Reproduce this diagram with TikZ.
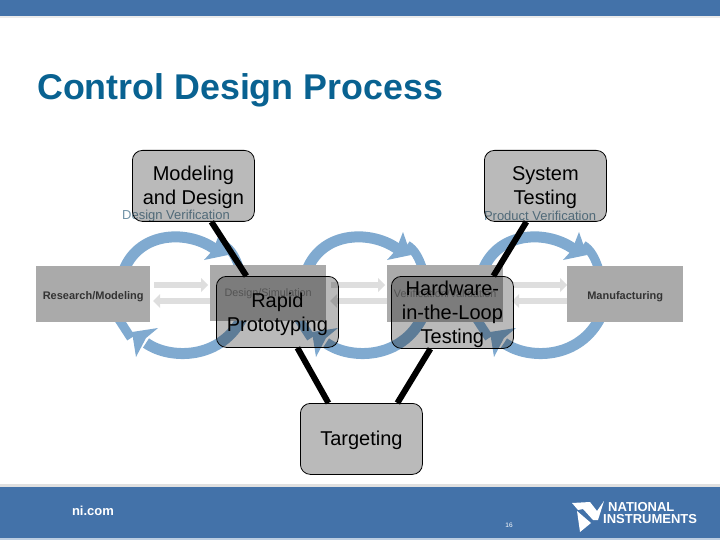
\documentclass[tikz,border=0pt]{standalone}
\usepackage{fontspec}
\setmainfont{Liberation Sans}
\definecolor{nibar}{RGB}{67,114,169}
\definecolor{titleblue}{RGB}{9,98,145}
\definecolor{loopblue}{RGB}{128,170,208}
\definecolor{stagegray}{RGB}{170,170,170}
\definecolor{flowgray}{RGB}{222,222,222}
\definecolor{verifblue}{RGB}{110,145,165}
\newcommand\lowertext[2]{\raisebox{-#1pt}[\height][\depth]{\begin{tabular}{@{}c@{}}#2\end{tabular}}}
\tikzset{
  x=1pt,y=-1pt,
  processbox/.style={draw=black,line width=.8pt,rounded corners=10pt,fill=black,fill opacity=.27,text opacity=1,
    minimum width=122pt,minimum height=71pt,align=center,font=\fontsize{20}{24}\selectfont,anchor=north west,inner sep=0pt},
  stagebox/.style={fill=stagegray,inner sep=0pt,anchor=north west,font=\bfseries\fontsize{11}{13}\selectfont,text=black!80},
  dimstage/.style={stagebox,font=\fontsize{10.8}{13}\selectfont,text=black!55},
  linkline/.style={line width=6pt,black},
  looparc/.style={line width=11pt,loopblue},
  loophead/.style={fill=loopblue},
  flowarrow/.style={line width=6pt,flowgray},
  flowhead/.style={fill=flowgray},
  verif/.style={text=verifblue,font=\fontsize{13}{15}\selectfont,inner sep=0pt}
}
\begin{document}
\begin{tikzpicture}
\useasboundingbox (0,0) rectangle (720,540);
\fill[black!8] (0,16) rectangle (720,18);
\fill[nibar] (0,0) rectangle (720,16);
\fill[black!12] (0,484) rectangle (720,487);
\fill[nibar] (0,487) rectangle (720,538);
\fill[nibar!35] (0,538) rectangle (720,540);
\node[text=titleblue,font=\bfseries\fontsize{35.8}{40}\selectfont,anchor=west,inner sep=0pt] (title) at (37,90) {Control Design Process};
% loops
\foreach \dx/\ex in {0/0,183/180,359/358}{
  \begin{scope}[xshift=\dx pt]
  \draw[looparc] (124,270) .. controls (140,230) and (190,230) .. (216,250);
  \fill[loophead] (220,232) -- (228,255) -- (204,260) -- (213,250) -- cycle;
  \draw[looparc,line width=9pt] (224,245) .. controls (232,250) and (236,258) .. (240,270);
  \end{scope}
  \begin{scope}[xshift=\ex pt]
  \draw[looparc] (243,316) .. controls (222,360) and (170,360) .. (146,343);
  \fill[loophead] (132,332) -- (158,328) -- (146,338) -- (136,357) -- cycle;
  \draw[looparc,line width=9pt] (118,318) -- (131,338);
  \end{scope}
}
% flow arrows
\foreach \dx in {0,177,359}{
  \begin{scope}[xshift=\dx pt]
  \draw[flowarrow] (154,285) -- (202,285);
  \fill[flowhead] (201,278) -- (208,285) -- (201,292) -- cycle;
  \draw[flowarrow] (210,301) -- (160,301);
  \fill[flowhead] (160,294) -- (153,301) -- (160,308) -- cycle;
  \end{scope}
}
\node[stagebox,minimum width=114pt,minimum height=56pt] (res) at (36,266) {\lowertext{2.5}{Research/Modeling}};
\node[dimstage,minimum width=116pt,minimum height=56pt] (des) at (210,265) {\lowertext{1}{Design/Simulation}};
\node[dimstage,minimum width=116pt,minimum height=57pt] (ver) at (387,265) {\lowertext{1}{Verification/Validation}};
\node[stagebox,minimum width=116pt,minimum height=56pt] (man) at (567,266) {\lowertext{2.5}{Manufacturing}};
\node[verif] (dv) at (176,216) {Design Verification};
\node[verif] (pv) at (540,216) {Product Verification};
% process boxes
\node[processbox] (model) at (132,150) {\lowertext{1.5}{Modeling\\and Design}};
\node[processbox] (sys) at (484,150) {\lowertext{1.5}{System\\Testing}};
\node[processbox] (rapid) at (216,276) {\lowertext{2.5}{Rapid\\Prototyping}};
\node[processbox] (hil) at (391,276) {\lowertext{2}{Hardware-\\in-the-Loop\\Testing}};
\node[processbox] (tgt) at (300,403) {\lowertext{1.5}{Targeting}};
\draw[linkline] ([xshift=18pt]model.south) -- ([xshift=-31pt]rapid.north);
\draw[linkline] ([xshift=-19pt]sys.south) -- ([xshift=41pt]hil.north);
\draw[linkline] ([xshift=20pt]rapid.south) -- ([xshift=-33pt]tgt.north);
\draw[linkline] ([xshift=-22pt]hil.south) -- ([xshift=36pt]tgt.north);
% footer
\node[text=white,font=\bfseries\fontsize{13}{15}\selectfont,inner sep=0pt] (ni) at (93,511) {ni.com};
\node[text=white,font=\fontsize{6.5}{7}\selectfont,inner sep=0pt] (pg) at (509,525) {16};
\fill[white] (572,503) -- (590,502) -- (597,511) -- (604,501) -- (598,520) -- (593,520) -- (583,509) -- (578,510) -- cycle;
\fill[white] (577,511) -- (591,523) -- (580,532) -- cycle;
\node[text=white,font=\bfseries\fontsize{13}{12.5}\selectfont,anchor=west,inner sep=0pt,align=left] (nat) at (603,513) {\hspace*{5pt}NATIONAL\\INSTRUMENTS};
\end{tikzpicture}
\end{document}
